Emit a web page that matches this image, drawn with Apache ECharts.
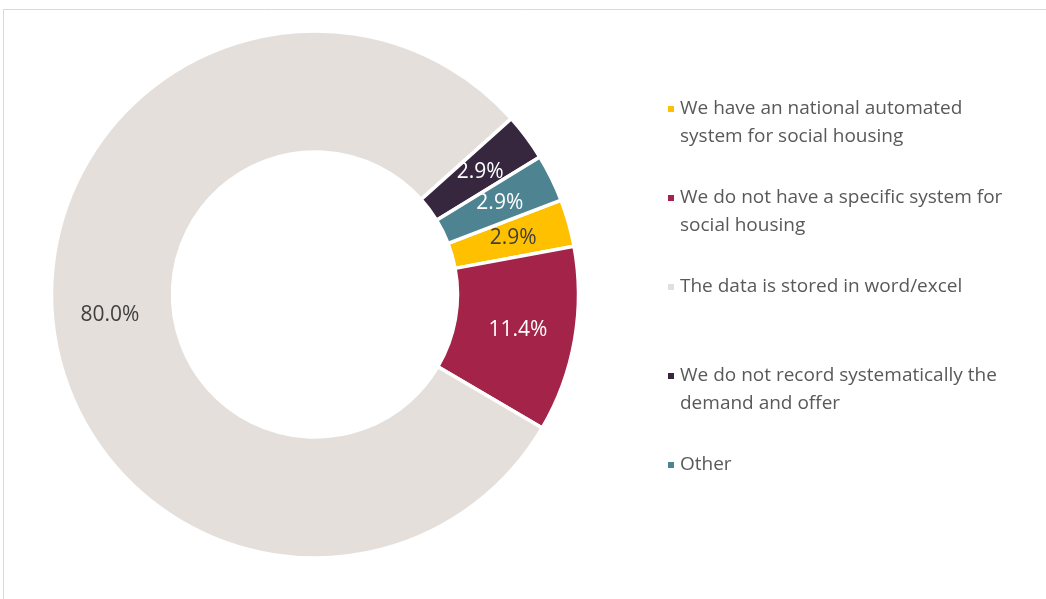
<!DOCTYPE html>
<html>
<head>
<meta charset="utf-8">
<script src="https://cdn.jsdelivr.net/npm/echarts@6/dist/echarts.min.js"></script>
<style>
  html, body { margin: 0; padding: 0; background: #ffffff; }
  #chart { width: 1046px; height: 599px; }
</style>
</head>
<body>
<div id="chart"></div>
<script>
// Categories (legend order = clockwise slice order)
const categories = [
  'We have an national automated system for social housing',
  'We do not have a specific system for social housing',
  'The data is stored in word/excel',
  'We do not record systematically the demand and offer',
  'Other'
];
// Wrapped legend text for each category
const legendLines = [
  ['We have an national automated', 'system for social housing'],
  ['We do not have a specific system for', 'social housing'],
  ['The data is stored in word/excel'],
  ['We do not record systematically the', 'demand and offer'],
  ['Other']
];
// Share of respondents, percent
const shares = [2.9, 11.4, 80.0, 2.9, 2.9];
const colors = ['#FFC000', '#A32349', '#E4DFDB', '#36273F', '#4E8391'];
const labelColors = ['#404040', '#ffffff', '#404040', '#ffffff', '#ffffff'];

const FONT = '"Open Sans", "Noto Sans", sans-serif';

const chart = echarts.init(document.getElementById('chart'), null, { renderer: 'canvas' });

// Legend text: a blank line above and below keeps the marker level with the first line
const legendText = {};
categories.forEach((c, i) => {
  const lines = legendLines[i].slice();
  while (lines.length < 2) lines.push(' ');
  legendText[c] = ' \n' + lines.join('\n');
});

chart.setOption({
  backgroundColor: '#ffffff',
  animation: false,
  graphic: [{
    type: 'rect',
    shape: { x: 3.5, y: 9.5, width: 1100, height: 700 },
    style: { fill: 'none', stroke: '#d9d9d9', lineWidth: 1 },
    silent: true
  }],
  legend: {
    orient: 'vertical',
    left: 666,
    top: 67,
    padding: 0,
    itemWidth: 8,
    itemHeight: 8,
    itemGap: 5,
    icon: 'rect',
    data: categories,
    formatter: name => legendText[name],
    textStyle: {
      fontFamily: FONT,
      fontSize: 19,
      color: '#595959',
      lineHeight: 28,
      padding: [0, 0, 0, 0]
    },
    selectedMode: false
  },
  series: [{
    type: 'pie',
    center: [315, 294.5],
    radius: [142.5, 263.5],
    startAngle: 21,
    clockwise: true,
    avoidLabelOverlap: false,
    itemStyle: { borderColor: '#ffffff', borderWidth: 3.5 },
    label: {
      show: true,
      position: 'inside',
      fontFamily: FONT,
      fontSize: 21,
      formatter: p => p.value.toFixed(1) + '%'
    },
    labelLine: { show: false },
    emphasis: { disabled: true },
    data: categories.map((c, i) => ({
      name: c,
      value: shares[i],
      itemStyle: { color: colors[i] },
      label: { color: labelColors[i] }
    }))
  }]
});
</script>
</body>
</html>
